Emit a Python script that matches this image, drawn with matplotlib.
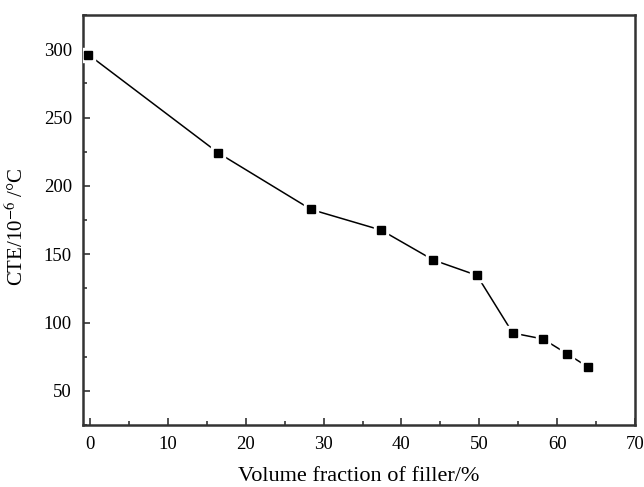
import matplotlib
matplotlib.use('Agg')
import matplotlib.pyplot as plt
from matplotlib.ticker import MultipleLocator

plt.rcParams['font.family'] = ['Liberation Serif', 'DejaVu Serif']
plt.rcParams['mathtext.fontset'] = 'stix'

# volume fraction of filler (%) and CTE values
volume_fraction = [-0.2, 16.5, 28.4, 37.4, 44.1, 49.7, 54.3, 58.2, 61.3, 64.0]
cte = [296, 224, 182.7, 167.6, 145.7, 134.5, 92.3, 87.9, 77, 67.3]

fig = plt.figure(figsize=(6.44, 4.87), dpi=100)
ax = fig.add_axes([83/644, 1 - 425/487, (635 - 83)/644, (425 - 15)/487])

ax.plot(volume_fraction, cte, color='black', linewidth=1.1, zorder=2)
# white squares behind the markers give the small gap in the line
ax.plot(volume_fraction, cte, linestyle='none', marker='s', markersize=10,
        color='white', zorder=3)
ax.plot(volume_fraction, cte, linestyle='none', marker='s', markersize=5.5,
        color='black', zorder=4)

ax.set_xlim(-0.9, 70)
ax.set_ylim(25, 325)
ax.xaxis.set_major_locator(MultipleLocator(10))
ax.xaxis.set_minor_locator(MultipleLocator(5))
ax.yaxis.set_minor_locator(MultipleLocator(25))
ax.set_yticks([50, 100, 150, 200, 250, 300])

ax.tick_params(which='both', direction='in', top=False, right=False,
               labelsize=13.5, color='#333333', width=1.2, pad=8)
ax.tick_params(which='major', length=5)
ax.tick_params(which='minor', length=3)
for s in ax.spines.values():
    s.set_linewidth(1.8)
    s.set_color('#333333')

ax.set_xlabel('Volume fraction of filler/%', fontsize=16, labelpad=10)
ax.set_ylabel(r'CTE/10$^{-6}$ /°C', fontsize=15)
ax.yaxis.set_label_coords(-0.1, 0.483)

fig.savefig('out.png', dpi=100)
